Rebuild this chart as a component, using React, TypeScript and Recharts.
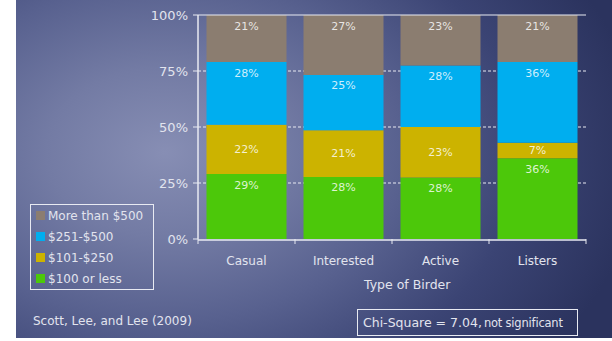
import React from 'react';
import {
  BarChart,
  Bar,
  XAxis,
  YAxis,
  CartesianGrid,
  ReferenceLine,
  LabelList,
} from 'recharts';

const categories = ['Casual', 'Interested', 'Active', 'Listers'];
const upTo100 = [29, 28, 28, 36];
const from101 = [22, 21, 23, 7];
const from251 = [28, 25, 28, 36];
const over500 = [21, 27, 23, 21];
const yTicks = [0, 0.25, 0.5, 0.75, 1];
const edgeTicks = [0, 1, 2, 3, 4];

// stacking order, bottom to top
const series = [
  { key: 'upTo100', name: '$100 or less', color: '#4cc80a', centered: false },
  { key: 'from101', name: '$101-$250', color: '#ccb300', centered: true },
  { key: 'from251', name: '$251-$500', color: '#00aeef', centered: false },
  { key: 'over500', name: 'More than $500', color: '#8b7d70', centered: false },
];

const data = categories.map((name, i) => ({
  name,
  edge: i,
  upTo100: upTo100[i],
  from101: from101[i],
  from251: from251[i],
  over500: over500[i],
}));

const FONT = '"DejaVu Sans", sans-serif';
const TEXT = '#e2e4ee';
const LINE = '#e8eaf2';

const makeLabel = (centered: boolean) => (props: any) => {
  const vb = props.viewBox || props;
  const { x, y, width, height } = vb;
  const cy = centered ? y + height / 2 : y + 11;
  return (
    <text
      x={x + width / 2}
      y={cy}
      textAnchor="middle"
      dominantBaseline="central"
      fontFamily={FONT}
      fontSize={11}
      fill="rgba(255,255,255,0.82)"
    >
      {props.value}%
    </text>
  );
};

const NoTick = () => <g />;

export default function App() {
  return (
    <div
      style={{
        position: 'absolute',
        left: 0,
        top: 0,
        width: 612,
        height: 341,
        background: '#fff',
        fontFamily: FONT,
      }}
    >
      <div
        style={{
          position: 'absolute',
          left: 16,
          top: 0,
          width: 596,
          height: 338,
          background:
            'radial-gradient(ellipse 80% 100% at 25% 45%, #878eb4 0%, #737ba4 25%, #58618f 50%, #3b4474 75%, #2b335e 100%)',
        }}
      />
      <div style={{ position: 'absolute', left: 0, top: 0 }}>
        <BarChart
          width={612}
          height={341}
          data={data}
          stackOffset="expand"
          barCategoryGap={8.5}
          margin={{ top: 15, right: 26, left: 0, bottom: 72 }}
        >
          <CartesianGrid
            xAxisId="main"
            vertical={false}
            stroke={LINE}
            strokeDasharray="3 2"
            horizontalValues={[0.25, 0.5, 0.75]}
          />
          {/* short ticks between categories */}
          <XAxis
            xAxisId="edges"
            dataKey="edge"
            type="number"
            domain={[0, 4]}
            ticks={edgeTicks}
            interval={0}
            tick={NoTick}
            axisLine={false}
            tickLine={{ stroke: LINE }}
            tickSize={5}
            height={1}
          />
          <XAxis
            xAxisId="main"
            dataKey="name"
            height={29}
            axisLine={{ stroke: LINE, strokeWidth: 1.5 }}
            tickLine={false}
            tickMargin={10}
            tick={{ fill: TEXT, fontSize: 12, fontFamily: FONT }}
          />
          <YAxis
            width={198}
            domain={[0, 1]}
            ticks={yTicks}
            tickFormatter={(v: number) => `${Math.round(v * 100)}%`}
            axisLine={{ stroke: LINE, strokeWidth: 1.5 }}
            tickLine={{ stroke: LINE }}
            tickSize={5}
            tickMargin={5}
            tick={{ fill: TEXT, fontSize: 13, fontFamily: FONT }}
          />
          <YAxis
            yAxisId="border"
            orientation="right"
            width={0}
            tick={false}
            tickLine={false}
            axisLine={{ stroke: LINE }}
          />
          <ReferenceLine xAxisId="main" y={1} stroke={LINE} />
          {series.map((s) => (
            <Bar
              key={s.key}
              xAxisId="main"
              dataKey={s.key}
              name={s.name}
              stackId="a"
              fill={s.color}
              isAnimationActive={false}
            >
              <LabelList dataKey={s.key} content={makeLabel(s.centered)} />
            </Bar>
          ))}
        </BarChart>
      </div>

      <div
        style={{
          position: 'absolute',
          left: 30,
          top: 204,
          width: 117,
          height: 84,
          border: `1px solid ${LINE}`,
          padding: '0 0 0 5px',
          boxSizing: 'content-box',
        }}
      >
        {[...series].reverse().map((s) => (
          <div
            key={s.key}
            style={{
              display: 'flex',
              alignItems: 'center',
              height: 21,
              color: TEXT,
              fontSize: 12,
              whiteSpace: 'nowrap',
            }}
          >
            <span
              style={{
                display: 'inline-block',
                width: 9,
                height: 9,
                background: s.color,
                marginRight: 3,
              }}
            />
            {s.name}
          </div>
        ))}
      </div>

      <div
        style={{
          position: 'absolute',
          left: 364,
          top: 277,
          color: TEXT,
          fontSize: 12.5,
          whiteSpace: 'nowrap',
        }}
      >
        Type of Birder
      </div>

      <div
        style={{
          position: 'absolute',
          left: 33,
          top: 314,
          color: TEXT,
          fontSize: 12,
          whiteSpace: 'nowrap',
        }}
      >
        Scott, Lee, and Lee (2009)
      </div>

      <div
        style={{
          position: 'absolute',
          left: 357,
          top: 309,
          width: 221,
          height: 27,
          border: `1px solid ${LINE}`,
          color: TEXT,
          display: 'flex',
          alignItems: 'center',
          paddingLeft: 5,
          boxSizing: 'border-box',
          whiteSpace: 'nowrap',
        }}
      >
        <span style={{ fontSize: 12.5 }}>Chi-Square = 7.04,</span>
        <span style={{ fontSize: 11.5, marginLeft: 2, letterSpacing: -0.2 }}>not significant</span>
      </div>
    </div>
  );
}
